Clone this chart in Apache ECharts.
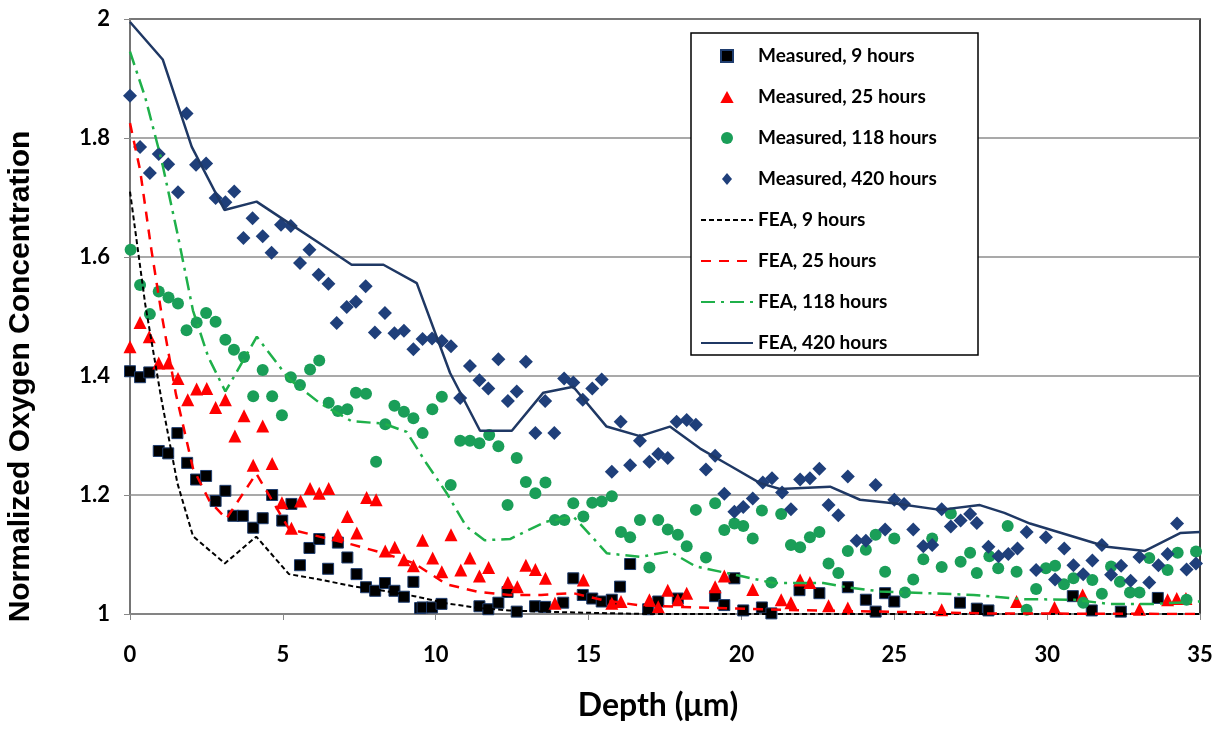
<!DOCTYPE html>
<html>
<head>
<meta charset="utf-8">
<script src="https://cdn.jsdelivr.net/npm/echarts@6/dist/echarts.min.js"></script>
<style>
  html, body { margin: 0; padding: 0; background: #fff; }
  #chart { width: 1223px; height: 730px; }
</style>
</head>
<body>
<div id="chart"></div>
<script>
// measured points: [depth (um), normalized concentration]
var measured9 = [
   [0, 1.408], [0.33, 1.398], [0.63, 1.406], [0.94, 1.274], [1.25, 1.270], [1.55, 1.304],
   [1.87, 1.254], [2.16, 1.226], [2.49, 1.232], [2.80, 1.190], [3.12, 1.207], [3.38, 1.165],
   [3.69, 1.165], [4.03, 1.145], [4.34, 1.161], [4.65, 1.200], [4.98, 1.157], [5.28, 1.185],
   [5.56, 1.082], [5.87, 1.111], [6.19, 1.126], [6.48, 1.076], [6.80, 1.120], [7.11, 1.095],
   [7.41, 1.067], [7.72, 1.045], [8.02, 1.039], [8.34, 1.052], [8.65, 1.039], [8.96, 1.029],
   [9.27, 1.054], [9.49, 1.010], [9.57, 1.011], [9.88, 1.011], [10.19, 1.017], [11.43, 1.013],
   [11.72, 1.008], [12.05, 1.019], [12.35, 1.037], [12.65, 1.004], [13.25, 1.013], [13.58, 1.012],
   [14.17, 1.019], [14.50, 1.060], [14.81, 1.032], [15.12, 1.026], [15.43, 1.021], [15.76, 1.024],
   [16.03, 1.046], [16.36, 1.084], [16.95, 1.008], [17.28, 1.021], [17.92, 1.026], [19.14, 1.030],
   [19.44, 1.015], [19.77, 1.060], [20.06, 1.006], [20.67, 1.011], [20.98, 1.001], [21.90, 1.040],
   [22.55, 1.035], [23.48, 1.045], [24.07, 1.024], [24.39, 1.004], [24.70, 1.035], [25.00, 1.021],
   [27.15, 1.019], [27.70, 1.009], [28.08, 1.006], [30.84, 1.030], [31.46, 1.006], [32.41, 1.004],
   [33.62, 1.027]
];
var measured25 = [
   [0, 1.449], [0.33, 1.490], [0.63, 1.466], [0.94, 1.422], [1.25, 1.422], [1.57, 1.396],
   [1.89, 1.360], [2.18, 1.378], [2.51, 1.379], [2.80, 1.347], [3.12, 1.360], [3.43, 1.299],
   [3.73, 1.333], [4.03, 1.250], [4.34, 1.316], [4.65, 1.253], [4.97, 1.187], [5.28, 1.144],
   [5.58, 1.190], [5.89, 1.211], [6.19, 1.203], [6.50, 1.211], [6.80, 1.133], [7.11, 1.164],
   [7.42, 1.136], [7.74, 1.196], [8.05, 1.192], [8.35, 1.106], [8.66, 1.112], [8.96, 1.091],
   [9.27, 1.081], [9.57, 1.124], [9.90, 1.094], [10.20, 1.071], [10.50, 1.133], [10.82, 1.074],
   [11.12, 1.094], [11.43, 1.064], [11.73, 1.078], [12.36, 1.053], [12.67, 1.046], [12.95, 1.082],
   [13.26, 1.075], [13.59, 1.060], [13.90, 1.018], [14.83, 1.057], [15.76, 1.018], [16.06, 1.021],
   [16.99, 1.024], [17.28, 1.012], [17.59, 1.040], [17.92, 1.024], [18.21, 1.035], [19.14, 1.046],
   [19.44, 1.064], [20.37, 1.041], [21.30, 1.024], [21.62, 1.019], [21.92, 1.057], [22.24, 1.053],
   [22.85, 1.014], [23.48, 1.010], [26.55, 1.007], [29.00, 1.021], [30.24, 1.011], [31.16, 1.032],
   [33.02, 1.008], [33.94, 1.024], [34.24, 1.026], [34.54, 1.026]
];
var measured118 = [
   [0.02, 1.612], [0.33, 1.553], [0.65, 1.504], [0.94, 1.542], [1.26, 1.532], [1.57, 1.522],
   [1.85, 1.477], [2.18, 1.490], [2.49, 1.506], [2.80, 1.491], [3.12, 1.461], [3.40, 1.444],
   [3.73, 1.432], [4.03, 1.366], [4.34, 1.410], [4.65, 1.366], [4.97, 1.334], [5.26, 1.398],
   [5.56, 1.385], [5.89, 1.411], [6.19, 1.426], [6.50, 1.355], [6.80, 1.341], [7.11, 1.344],
   [7.39, 1.372], [7.72, 1.370], [8.05, 1.256], [8.35, 1.319], [8.65, 1.350], [8.96, 1.340],
   [9.27, 1.329], [9.57, 1.304], [9.89, 1.344], [10.20, 1.365], [10.49, 1.217], [10.80, 1.291],
   [11.12, 1.291], [11.43, 1.287], [11.75, 1.301], [12.05, 1.282], [12.35, 1.183], [12.65, 1.262],
   [12.95, 1.222], [13.26, 1.203], [13.59, 1.221], [13.90, 1.158], [14.21, 1.158], [14.50, 1.186],
   [14.83, 1.164], [15.12, 1.187], [15.43, 1.189], [15.76, 1.198], [16.06, 1.138], [16.36, 1.129],
   [16.68, 1.158], [16.99, 1.078], [17.28, 1.158], [17.59, 1.142], [17.92, 1.133], [18.21, 1.114],
   [18.51, 1.175], [18.84, 1.095], [19.14, 1.186], [19.44, 1.141], [19.77, 1.152], [20.06, 1.148],
   [20.37, 1.127], [20.67, 1.174], [20.98, 1.053], [21.30, 1.168], [21.62, 1.116], [21.92, 1.112],
   [22.24, 1.129], [22.55, 1.138], [22.85, 1.085], [23.17, 1.069], [23.48, 1.106], [24.07, 1.108],
   [24.39, 1.133], [24.70, 1.071], [25.00, 1.127], [25.35, 1.036], [25.62, 1.058], [25.95, 1.092],
   [26.24, 1.127], [26.55, 1.079], [26.85, 1.169], [27.17, 1.088], [27.48, 1.103], [27.70, 1.069],
   [28.11, 1.097], [28.40, 1.077], [28.71, 1.148], [29.00, 1.071], [29.33, 1.007], [29.64, 1.042],
   [29.96, 1.077], [30.26, 1.081], [30.55, 1.050], [30.86, 1.060], [31.18, 1.019], [31.48, 1.057],
   [31.79, 1.034], [32.09, 1.080], [32.38, 1.054], [32.71, 1.036], [33.02, 1.036], [33.34, 1.094],
   [33.94, 1.074], [34.27, 1.103], [34.56, 1.024], [34.87, 1.105]
];
var measured420 = [
   [0, 1.871], [0.33, 1.785], [0.65, 1.741], [0.94, 1.773], [1.25, 1.756], [1.57, 1.709],
   [1.85, 1.841], [2.16, 1.755], [2.49, 1.757], [2.80, 1.699], [3.12, 1.692], [3.41, 1.710],
   [3.71, 1.632], [4.01, 1.665], [4.34, 1.635], [4.63, 1.607], [4.94, 1.654], [5.26, 1.652],
   [5.56, 1.590], [5.87, 1.612], [6.17, 1.570], [6.49, 1.555], [6.76, 1.489], [7.09, 1.516],
   [7.39, 1.525], [7.71, 1.551], [8.01, 1.473], [8.34, 1.506], [8.65, 1.472], [8.96, 1.476],
   [9.27, 1.445], [9.57, 1.462], [9.88, 1.463], [10.20, 1.459], [10.50, 1.450], [10.80, 1.363],
   [11.12, 1.417], [11.43, 1.393], [11.72, 1.379], [12.05, 1.428], [12.36, 1.358], [12.65, 1.374],
   [12.95, 1.424], [13.26, 1.304], [13.58, 1.358], [13.88, 1.304], [14.20, 1.396], [14.50, 1.389],
   [14.81, 1.360], [15.12, 1.379], [15.43, 1.394], [15.76, 1.239], [16.05, 1.323], [16.36, 1.250],
   [16.68, 1.291], [16.99, 1.256], [17.28, 1.269], [17.59, 1.262], [17.88, 1.323], [18.21, 1.326],
   [18.51, 1.318], [18.84, 1.243], [19.14, 1.266], [19.44, 1.202], [19.77, 1.172], [20.06, 1.180],
   [20.37, 1.194], [20.70, 1.221], [21.00, 1.228], [21.33, 1.204], [21.62, 1.176], [21.92, 1.226],
   [22.24, 1.228], [22.55, 1.244], [22.85, 1.183], [23.17, 1.166], [23.48, 1.231], [23.77, 1.123],
   [24.07, 1.123], [24.39, 1.217], [24.70, 1.142], [25.00, 1.192], [25.32, 1.185], [25.62, 1.142],
   [25.95, 1.114], [26.24, 1.116], [26.55, 1.176], [26.85, 1.147], [27.17, 1.157], [27.48, 1.168],
   [27.70, 1.153], [28.08, 1.113], [28.41, 1.097], [28.73, 1.101], [29.03, 1.110], [29.33, 1.138],
   [29.64, 1.074], [29.96, 1.129], [30.26, 1.058], [30.56, 1.110], [30.86, 1.082], [31.18, 1.067],
   [31.48, 1.090], [31.79, 1.116], [32.09, 1.066], [32.42, 1.081], [32.73, 1.056], [33.02, 1.096],
   [33.34, 1.053], [33.64, 1.082], [33.94, 1.101], [34.25, 1.152], [34.56, 1.075], [34.87, 1.085]
];

// FEA curves
var fea9 = [
   [0, 1.71], [0.5, 1.52], [1.03, 1.36], [1.55, 1.22], [2.06, 1.131], [3.1, 1.085], [4.13, 1.13],
   [5.2, 1.067], [6.2, 1.058], [7.25, 1.047], [8.3, 1.039], [9.3, 1.03], [10.35, 1.018],
   [11.4, 1.01], [12.4, 1.006], [13.45, 1.004], [15, 1.002], [17, 1.0], [35, 1.0]
];
var fea25 = [
   [0, 1.825], [0.33, 1.746], [0.7, 1.612], [1.03, 1.505], [1.5, 1.37], [2.06, 1.245],
   [2.6, 1.19], [3.15, 1.16], [4.13, 1.236], [5.2, 1.143], [6.2, 1.13], [7.25, 1.117],
   [8.3, 1.102], [9.3, 1.085], [10.35, 1.05], [11.4, 1.037], [12.4, 1.032], [13.45, 1.032],
   [14.5, 1.035], [15.5, 1.023], [16.6, 1.015], [18, 1.012], [21.3, 1.007], [24.5, 1.004],
   [28, 1.001], [35, 1.0]
];
var fea118 = [
   [0, 1.945], [0.5, 1.868], [1.03, 1.763], [1.55, 1.64], [2.06, 1.51], [2.56, 1.432],
   [3.12, 1.374], [4.15, 1.466], [5.2, 1.395], [6.22, 1.354], [7.25, 1.324], [8.3, 1.32],
   [9.05, 1.306], [9.7, 1.253], [10.36, 1.203], [11.0, 1.147], [11.6, 1.124], [12.43, 1.126],
   [13.6, 1.155], [14.5, 1.164], [15.0, 1.136], [15.6, 1.102], [16.68, 1.096], [17.66, 1.105],
   [18.5, 1.08], [20.06, 1.063], [21.04, 1.052], [22.68, 1.052], [23.44, 1.045], [24.53, 1.038],
   [26.06, 1.035], [27.6, 1.032], [29.2, 1.025], [30.9, 1.024], [32, 1.017], [33.5, 1.017],
   [35, 1.021]
];
var fea420 = [
   [0, 1.995], [1.07, 1.932], [2.02, 1.785], [3.09, 1.679], [4.14, 1.693], [5.2, 1.657],
   [6.2, 1.623], [7.25, 1.587], [8.29, 1.587], [9.38, 1.556], [10.47, 1.405], [11.45, 1.308],
   [12.49, 1.308], [13.52, 1.372], [14.5, 1.382], [15.59, 1.315], [16.68, 1.299], [17.66, 1.315],
   [18.65, 1.278], [19.6, 1.25], [20.61, 1.22], [21.26, 1.21], [22.9, 1.214], [23.88, 1.192],
   [24.97, 1.186], [26.5, 1.175], [27.8, 1.183], [28.6, 1.17], [29.44, 1.152], [31.95, 1.113],
   [33.2, 1.106], [34.35, 1.136], [35, 1.138]
];

var FONT = 'Lato';

// legend markers as paths so they keep their shape inside the wide legend slot
var icons = {
   rect: 'path://M0 0 L10 0 L10 10 L0 10 Z',
   triangle: 'path://M5 0 L10 9 L0 9 Z',
   circle: 'path://M0 5 A5 5 0 1 1 10 5 A5 5 0 1 1 0 5 Z',
   diamond: 'path://M5 0 L10 6 L5 12 L0 6 Z'
};

var chart = echarts.init(document.getElementById('chart'));

var scatter = function(name, data, symbol, size, color, border) {
   return {
      name: name,
      type: 'scatter',
      data: data,
      symbol: symbol,
      symbolSize: size,
      itemStyle: { color: color, borderColor: border || color, borderWidth: border ? 1 : 0, opacity: 1 }
   };
};

var fea = function(name, data, color, width, dash) {
   return {
      name: name,
      type: 'line',
      data: data,
      symbol: 'none',
      smooth: false,
      lineStyle: { color: color, width: width, type: dash },
      itemStyle: { color: color }
   };
};

chart.setOption({
   backgroundColor: '#fff',
   animation: false,
   grid: {
      left: 130, right: 23, top: 19, bottom: 116,
      containLabel: false, outerBoundsMode: 'none',
      show: true, borderColor: '#000', borderWidth: 1.5
   },
   legend: {
      orient: 'vertical',
      left: 691, top: 33,
      padding: [13, 15, 2, 9],
      itemWidth: 52, itemHeight: 12, itemGap: 21,
      backgroundColor: '#fff',
      borderColor: '#000', borderWidth: 1.5,
      textStyle: { fontFamily: FONT, fontWeight: 'bold', fontSize: 19, color: '#000', lineHeight: 20, width: 205 },
      data: [
         { name: 'Measured, 9 hours', icon: icons.rect },
         { name: 'Measured, 25 hours', icon: icons.triangle },
         { name: 'Measured, 118 hours', icon: icons.circle },
         { name: 'Measured, 420 hours', icon: icons.diamond },
         { name: 'FEA, 9 hours', itemStyle: { opacity: 0 } },
         { name: 'FEA, 25 hours', itemStyle: { opacity: 0 } },
         { name: 'FEA, 118 hours', itemStyle: { opacity: 0 } },
         { name: 'FEA, 420 hours', itemStyle: { opacity: 0 } }
      ]
   },
   xAxis: {
      type: 'value', min: 0, max: 35, interval: 5,
      name: 'Depth (\u03bcm)', nameLocation: 'middle', nameGap: 76,
      nameTextStyle: { fontFamily: FONT, fontWeight: 'bold', fontSize: 32, color: '#000', padding: [0, 14, 0, 0] },
      axisLine: { lineStyle: { color: '#888', width: 1.5 } },
      axisTick: { show: true, length: 6, lineStyle: { color: '#888' } },
      axisLabel: { margin: 30, fontFamily: FONT, fontWeight: 'bold', fontSize: 22, color: '#000' },
      splitLine: { show: false }
   },
   yAxis: {
      type: 'value', min: 1, max: 2, interval: 0.2,
      name: 'Normalized Oxygen Concentration', nameLocation: 'middle', nameGap: 94,
      nameTextStyle: { fontFamily: 'Liberation Sans', fontWeight: 'bold', fontSize: 30, color: '#000', padding: [0, 120, 0, 0] },
      axisLine: { show: true, lineStyle: { color: '#888', width: 1.5 } },
      axisTick: { show: true, length: 6, lineStyle: { color: '#888' } },
      axisLabel: {
         margin: 20, fontFamily: FONT, fontWeight: 'bold', fontSize: 22, color: '#000',
         formatter: function(v) { return String(Math.round(v * 10) / 10); }
      },
      splitLine: { show: true, lineStyle: { color: '#8c8c8c', width: 1.5 } }
   },
   series: [
      scatter('Measured, 9 hours', measured9, 'rect', 11, '#000', '#1f3d6e'),
      scatter('Measured, 25 hours', measured25, 'triangle', 13, '#ff0000'),
      scatter('Measured, 118 hours', measured118, 'circle', 12, '#1a9e58'),
      scatter('Measured, 420 hours', measured420, 'diamond', 14, '#1f3f7a'),
      fea('FEA, 9 hours', fea9, '#000', 2, [5, 3]),
      fea('FEA, 25 hours', fea25, '#ff0000', 2.5, [10, 8]),
      fea('FEA, 118 hours', fea118, '#1fb04a', 2.5, [14, 6, 3, 6]),
      fea('FEA, 420 hours', fea420, '#1f3864', 2.5, 'solid')
   ]
});
</script>
</body>
</html>
